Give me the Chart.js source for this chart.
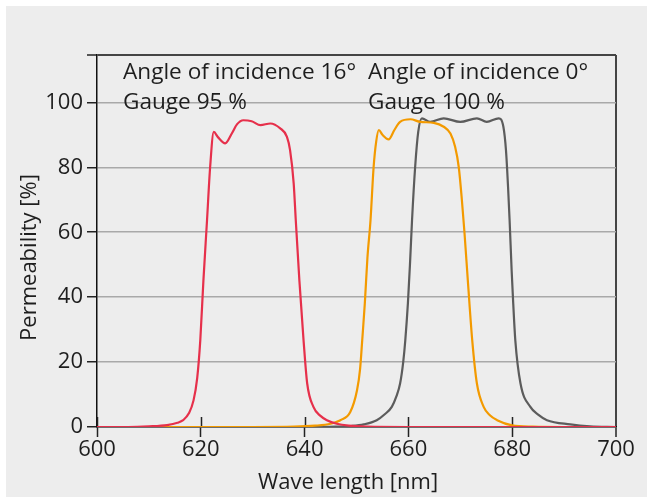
<!DOCTYPE html>
<html>
<head>
<meta charset="utf-8">
<script src="https://cdn.jsdelivr.net/npm/chart.js@4.4.1/dist/chart.umd.min.js"></script>
<style>
  html, body { margin: 0; padding: 0; background: #ffffff; }
  #bg { position: absolute; left: 6px; top: 6px; width: 641px; height: 491px; background: #ededed; }
  #wrap { position: absolute; left: 0; top: 0; width: 647px; height: 497px; }
</style>
</head>
<body>
<div id="bg"></div>
<div id="wrap"><canvas id="c" width="647" height="497"></canvas></div>
<script>
// ---- data ----
const xTicks = [600, 620, 640, 660, 680, 700];
const yTicks = [0, 20, 40, 60, 80, 100];
const xTitle = 'Wave length [nm]';
const yTitle = 'Permeability [%]';
const annotationLeft = ['Angle of incidence 16°', 'Gauge 95 %'];
const annotationRight = ['Angle of incidence 0°', 'Gauge 100 %'];

// Angle of incidence 16° (red)
const redX = [600, 606, 610, 613.5, 615.5, 616.6, 617.7, 618.6, 619.3, 619.9, 620.5, 621.2, 621.8, 622.5, 623.3, 624.7, 626.0, 627.0, 628.2, 629.8, 631.5, 633.4, 635.3, 636.6, 637.2, 637.9, 638.3, 639.0, 639.8, 640.5, 641.7, 643.0, 644.3, 646.2, 648.5, 652, 660, 680, 700];
const redY = [0, 0, 0.2, 0.6, 1.3, 2.1, 4.2, 8.2, 15, 26.7, 45, 63.7, 80.1, 90.9, 89.3, 87.4, 90.5, 93.3, 94.5, 94.2, 93.0, 93.5, 92.0, 89.4, 85.3, 75.0, 63.7, 45, 26.7, 13.4, 6.2, 3.5, 2.1, 1.0, 0.4, 0.1, 0, 0, 0];

// Angle of incidence 0°, gauge 95 % (orange)
const orangeX = [600, 630, 638, 642, 645.0, 646.9, 648.8, 650.1, 650.7, 651.1, 651.6, 652.1, 652.7, 653.3, 653.8, 654.3, 655.0, 656.2, 657.3, 658.4, 660.4, 662.3, 664.9, 666.8, 668.1, 669.0, 669.7, 670.3, 670.8, 671.5, 672.3, 673.2, 674.5, 675.7, 677.1, 680.0, 684, 690, 700];
const orangeY = [0, 0, 0.1, 0.4, 1.0, 2.1, 4.6, 11.3, 18, 26.7, 38, 52, 63.7, 80.1, 88, 91.5, 90.0, 88.6, 91.5, 94.0, 94.8, 94.0, 93.7, 92.5, 90.4, 86.3, 80.1, 70.0, 60.0, 44, 26.7, 13.4, 6.2, 3.6, 2.1, 0.5, 0.1, 0, 0];

// Angle of incidence 0°, gauge 100 % (grey)
const greyX = [600, 640, 646, 649, 651.4, 653.9, 655.5, 656.8, 657.7, 658.4, 659.0, 659.4, 659.9, 660.3, 660.7, 661.3, 661.9, 662.6, 664.2, 666.8, 670.0, 673.2, 675.1, 677.4, 678.3, 678.8, 679.2, 679.5, 679.9, 680.2, 680.6, 681.6, 683.5, 685, 686.7, 691.2, 695, 700];
const greyY = [0, 0, 0.1, 0.3, 0.8, 2.1, 4.0, 6.2, 9.5, 13.4, 20, 26.7, 38, 50, 63.7, 80.1, 91, 95.1, 94.0, 95.1, 94.0, 95.1, 94.0, 95.1, 92.5, 85.3, 74.0, 63.7, 48, 38, 26.7, 13.4, 6.2, 3.8, 2.1, 0.8, 0.2, 0];

const xMin = 600, xMax = 700, yMin = 0, yMax = 114.6;

const FONT = '"Open Sans", "Noto Sans", sans-serif';
const TXT = '#1e1e1e';

function pts(xs, ys) { return xs.map((x, i) => ({ x: x, y: ys[i] })); }

const decor = {
  id: 'decor',
  beforeDatasetsDraw(chart) {
    const ctx = chart.ctx, xs = chart.scales.x, ca = chart.chartArea;
    ctx.save();
    ctx.strokeStyle = '#222';
    ctx.lineWidth = 1.5;
    xTicks.forEach(v => {
      if (v === xMax) return;
      const px = Math.round(xs.getPixelForValue(v)) + 0.5;
      ctx.beginPath();
      ctx.moveTo(px, ca.bottom - 10);
      ctx.lineTo(px, ca.bottom);
      ctx.stroke();
    });
    ctx.restore();
  },
  afterDraw(chart) {
    const ctx = chart.ctx;
    ctx.save();
    ctx.fillStyle = TXT;
    ctx.font = '22.6px ' + FONT;
    ctx.textAlign = 'left';
    ctx.textBaseline = 'alphabetic';
    ctx.fillText(annotationLeft[0], 123, 78.5);
    ctx.fillText(annotationLeft[1], 123, 108.5);
    ctx.fillText(annotationRight[0], 368, 78.5);
    ctx.fillText(annotationRight[1], 368, 108.5);
    // axis titles
    ctx.font = '22px ' + FONT;
    ctx.textAlign = 'center';
    ctx.fillText(xTitle, 348, 488.5);
    ctx.translate(35.5, 257.5);
    ctx.rotate(-Math.PI / 2);
    ctx.fillText(yTitle, 0, 0);
    ctx.restore();
  }
};

function draw() {
  new Chart(document.getElementById('c'), {
    type: 'line',
    data: {
      datasets: [
        { label: 'Angle of incidence 16°', data: pts(redX, redY), borderColor: '#e6304b' },
        { label: 'Angle of incidence 0°, Gauge 95 %', data: pts(orangeX, orangeY), borderColor: '#f39a00' },
        { label: 'Angle of incidence 0°, Gauge 100 %', data: pts(greyX, greyY), borderColor: '#5c5c5c' }
      ]
    },
    options: {
      responsive: false,
      devicePixelRatio: 1,
      animation: false,
      layout: { padding: { left: 0, right: 31, top: 55, bottom: 0 } },
      elements: {
        point: { radius: 0 },
        line: { borderWidth: 2.2, cubicInterpolationMode: 'monotone', fill: false }
      },
      plugins: { legend: { display: false }, tooltip: { enabled: false }, title: { display: false } },
      scales: {
        x: {
          type: 'linear',
          min: xMin, max: xMax,
          afterFit(s) { s.height = 70; },
          afterBuildTicks(s) { s.ticks = xTicks.map(v => ({ value: v })); },
          border: { display: true, color: '#111', width: 1.5 },
          grid: {
            drawOnChartArea: true,
            drawTicks: true,
            tickLength: 10,
            tickColor: '#222',
            tickWidth: 1.5,
            color: c => (c.tick && c.tick.value === xMax) ? '#444' : 'rgba(0,0,0,0)',
            lineWidth: c => (c.tick && c.tick.value === xMax) ? 2 : 1
          },
          ticks: { color: TXT, font: { family: FONT, size: 22 }, padding: 0, maxRotation: 0, autoSkip: false }
        },
        y: {
          type: 'linear',
          min: yMin, max: yMax,
          afterFit(s) { s.width = 97; },
          afterBuildTicks(s) { s.ticks = yTicks.concat([yMax]).map(v => ({ value: v })); },
          border: { display: true, color: '#111', width: 1.5 },
          grid: {
            drawOnChartArea: true,
            drawTicks: true,
            tickLength: 10,
            tickColor: '#222',
            tickWidth: 1.5,
            color: c => (c.tick && c.tick.value === yMax) ? '#444' : '#a9a9a9',
            lineWidth: c => (c.tick && c.tick.value === yMax) ? 2 : 1.5
          },
          ticks: {
            color: TXT, font: { family: FONT, size: 22 }, padding: 4,
            callback: v => (yTicks.indexOf(v) >= 0 ? String(v) : '')
          }
        }
      }
    },
    plugins: [decor]
  });
}

if (document.fonts && document.fonts.load) {
  document.fonts.load('22px "Open Sans"').then(draw, draw);
} else { draw(); }
</script>
</body>
</html>
